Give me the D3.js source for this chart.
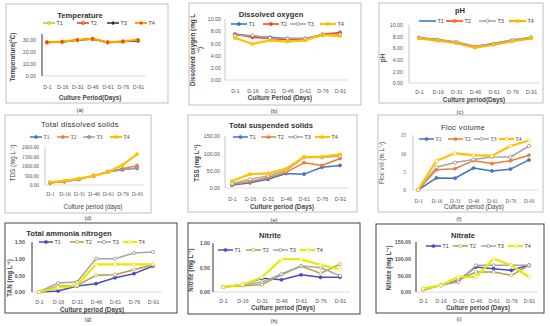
<!DOCTYPE html>
<html>
<head>
<meta charset="utf-8">
<script src="https://cdn.jsdelivr.net/npm/d3@7"></script>
<style>
  body { margin: 0; background: #fff; }
  svg { display: block; font-family: "Liberation Sans", Arial, sans-serif; }
</style>
</head>
<body>
<svg id="chart" width="550" height="326"></svg>
<script>
// categories and treatments
var days = ["D-1", "D-16", "D-31", "D-46", "D-61", "D-76", "D-91"];
var treatments = ["T1", "T2", "T3", "T4"];

// values per treatment (T1..T4)
var temperature = [
  [28.2, 28.4, 29.8, 30.8, 28.2, 28.6, 29.2],
  [28.0, 28.5, 30.0, 31.0, 28.0, 28.8, 29.6],
  [28.1, 28.4, 29.9, 30.9, 28.1, 28.7, 29.4],
  [28.0, 28.6, 30.0, 31.0, 28.0, 28.9, 30.2]
];
var dissolvedOxygen = [
  [7.5, 7.2, 7.0, 6.8, 6.8, 7.4, 7.6],
  [7.5, 7.0, 6.8, 6.6, 6.7, 7.5, 7.8],
  [7.3, 7.3, 6.9, 6.8, 6.8, 7.4, 7.5],
  [6.9, 5.9, 6.5, 6.3, 6.5, 7.4, 7.2]
];
var pH = [
  [7.8, 7.5, 7.0, 6.3, 6.8, 7.4, 7.8],
  [7.8, 7.4, 7.0, 6.2, 6.7, 7.3, 7.8],
  [7.8, 7.5, 7.1, 6.3, 6.8, 7.4, 7.9],
  [7.7, 7.3, 6.9, 6.1, 6.6, 7.2, 7.7]
];
var tds = [
  [120, 180, 300, 480, 700, 820, 880],
  [120, 190, 320, 480, 700, 850, 1020],
  [120, 190, 320, 480, 680, 800, 900],
  [150, 220, 340, 480, 680, 1050, 1620]
];
var tss = [
  [8, 15, 25, 42, 40, 60, 65],
  [10, 18, 30, 45, 73, 65, 85],
  [12, 25, 35, 50, 88, 88, 92],
  [20, 40, 42, 55, 90, 90, 97]
];
var flocVolume = [
  [0, 3.3, 3.2, 6.0, 5.2, 5.7, 8.2],
  [0, 5.5, 5.8, 8.0, 7.2, 8.0, 9.5],
  [0, 6.2, 7.5, 8.3, 9.0, 9.0, 12.0],
  [0, 8.0, 10.0, 9.5, 9.3, 12.0, 13.5]
];
var tan = [
  [0, 0.03, 0.18, 0.25, 0.43, 0.55, 0.78],
  [0, 0.17, 0.20, 0.50, 0.52, 0.67, 0.82],
  [0, 0.27, 0.30, 1.00, 1.00, 1.17, 1.20],
  [0, 0.13, 0.20, 0.83, 0.83, 0.83, 0.83]
];
var nitrite = [
  [0.10, 0.15, 0.28, 0.25, 0.35, 0.30, 0.30],
  [0.10, 0.13, 0.15, 0.35, 0.53, 0.38, 0.57],
  [0.10, 0.15, 0.20, 0.37, 0.53, 0.50, 0.33],
  [0.10, 0.15, 0.30, 0.67, 0.67, 0.55, 0.47]
];
var nitrate = [
  [8, 20, 35, 75, 70, 65, 80],
  [5, 20, 35, 60, 60, 50, 80],
  [10, 20, 30, 80, 80, 80, 80],
  [10, 20, 45, 45, 100, 80, 45]
];

// tick values
var temperatureTicks = [0, 10, 20, 30];
var doTicks = [0, 2, 4, 6, 8, 10];
var phTicks = [0, 2, 4, 6, 8, 10];
var tdsTicks = [0, 500, 1000, 1500, 2000];
var tssTicks = [0, 50, 100, 150];
var flocTicks = [0, 5, 10, 15];
var tanTicks = [0, 0.5, 1, 1.5];
var nitriteTicks = [0, 0.5, 1];
var nitrateTicks = [0, 50, 100, 150];

// colour sets
var excel = ["#4472C4", "#ED7D31", "#A5A5A5", "#FFC000"];
var bottomRow = ["#4B4BC8", "#B89B3C", "#A5A5A5", "#E8E800"];

var svg = d3.select("#chart");

var panels = [
  { data: temperature, ticks: temperatureTicks, fmt: ".2f", max: 35,
    box: [6, 4, 162, 99], x: [47, 138], y: [76, 34], axisX: 42, tickX: 36, labY: 87,
    title: "Temperature", titleXY: [80, 15], bold: true,
    xTitle: "Culture Period(Days)", xTitleXY: [90, 98],
    yTitle: ["Temperature(°C)"], yTitleXY: [13, 57],
    colors: ["#8FD14F", "#FF2A00", "#333333", "#FFA500"], markers: ["#FFD700", "#FF8C00", "#222", "#FF2A00"],
    legY: 23, legX: [43, 77, 107, 135], legW: 12, caption: ["(a)", 80, 110], darkAxis: true },
  { data: dissolvedOxygen, ticks: doTicks, fmt: ".2f", max: 10,
    box: [189, 3, 172, 102], x: [235, 340], y: [80, 19], axisX: 225, tickX: 221, labY: 91,
    title: "Dissolved oxygen", titleXY: [271, 14], bold: true,
    xTitle: "Culture Period (Days)", xTitleXY: [280, 98],
    yTitle: ["Dissolved oxygen (mg L", "⁻¹)"], yTitleXY: [196, 50],
    colors: ["#2E75B6", "#FF3B1F", "#A5A5A5", "#FFC000"], markers: ["#2E75B6", "#FF3B1F", "#fff", "#FFC000"],
    legY: 24, legX: [231, 263, 290, 320], legW: 16, caption: ["(b)", 274, 111] },
  { data: pH, ticks: phTicks, fmt: ".2f", max: 10,
    box: [379, 3, 164, 100], x: [419, 531], y: [83, 25], axisX: 409, tickX: 403, labY: 92,
    title: "pH", titleXY: [460, 10], bold: true,
    xTitle: "Culture period(Days)", xTitleXY: [474, 99.5],
    yTitle: ["pH"], yTitleXY: [383, 58],
    colors: ["#2E75B6", "#FF3B1F", "#A5A5A5", "#FFB000"], markers: ["none", "#FF8C00", "#fff", "#FFC000"],
    legY: 21, legX: [419, 446, 479, 509], legW: 17, caption: ["(c)", 460, 112], wide: true },
  { data: tds, ticks: tdsTicks, fmt: ".2f", max: 2000,
    box: [5, 115, 146, 98], x: [50, 137], y: [185, 147], axisX: 45, tickX: 39, labY: 194,
    title: "Total dissolved solids", titleXY: [80, 124], bold: false,
    xTitle: "Culture period (days)", xTitleXY: [93, 207],
    yTitle: ["TDS (mg L⁻¹)"], yTitleXY: [13, 163],
    colors: excel, markers: ["#4472C4", "#ED7D31", "#A5A5A5", "#FFC000"],
    legY: 137, legX: [30, 57, 83, 110], legW: 12, caption: ["(d)", 88, 218], serif: true, wide: true },
  { data: tss, ticks: tssTicks, fmt: ".2f", max: 150,
    box: [188, 115, 169, 97], x: [232, 340], y: [188, 136], axisX: 225, tickX: 220, labY: 199,
    title: "Total suspended solids", titleXY: [271, 125], bold: true,
    xTitle: "Culture period (Days)", xTitleXY: [282, 207],
    yTitle: ["TSS (mg L⁻¹)"], yTitleXY: [197, 163],
    colors: excel, markers: ["#4472C4", "#ED7D31", "#fff", "#FFC000"],
    legY: 137, legX: [233, 261, 288, 315], legW: 15, caption: ["(e)", 274, 220] },
  { data: flocVolume, ticks: flocTicks, fmt: "d", max: 15,
    box: [378, 115, 165, 97], x: [418, 529], y: [190, 135], axisX: 413, tickX: 406, labY: 201,
    title: "Floc volume", titleXY: [463, 127], bold: false,
    xTitle: "Culture period (Days)", xTitleXY: [474, 207],
    yTitle: ["Floc  vol (m L⁻¹)"], yTitleXY: [382, 163],
    colors: excel, markers: ["#4472C4", "#ED7D31", "#fff", "#fff"],
    legY: 139, legX: [419, 448, 474, 499], legW: 15, caption: ["(f)", 459, 219], serif: true },
  { data: tan, ticks: tanTicks, fmt: ".2f", max: 1.5,
    box: [5, 223, 172, 90], x: [39, 153], y: [292, 242], axisX: 32, tickX: 25, labY: 302,
    title: "Total ammonia nitrogen", titleXY: [69, 233], bold: true,
    xTitle: "Culture period (Days)", xTitleXY: [92, 310],
    yTitle: ["TAN (mg L⁻¹)"], yTitleXY: [10, 278],
    colors: bottomRow, markers: ["#4B4BC8", "#fff", "#fff", "#fff"],
    legY: 242, legX: [39, 70, 97, 123], legW: 14, caption: ["(g)", 88, 319], dark: true, darkAxis: true },
  { data: nitrite, ticks: nitriteTicks, fmt: ".2f", max: 1,
    box: [188, 223, 172, 91], x: [223, 340], y: [292, 243], axisX: 213, tickX: 210, labY: 301,
    title: "Nitrite", titleXY: [270, 235], bold: true,
    xTitle: "Culture period (Days)", xTitleXY: [283, 307.5],
    yTitle: ["Nitrite (mg L⁻¹)"], yTitleXY: [191, 270],
    colors: bottomRow, markers: ["#4B4BC8", "#fff", "#fff", "#fff"],
    legY: 250, legX: [218, 246, 273, 300], legW: 15, caption: ["(h)", 274, 321], dark: true, darkAxis: true },
  { data: nitrate, ticks: nitrateTicks, fmt: ".2f", max: 150,
    box: [376, 224, 168, 89], x: [423, 529], y: [292, 242], axisX: 416, tickX: 411, labY: 301,
    title: "Nitrate", titleXY: [463, 235], bold: true,
    xTitle: "Culture period (Days)", xTitleXY: [478, 307.5],
    yTitle: ["Nitrate (mg L⁻¹)"], yTitleXY: [389, 268],
    colors: bottomRow, markers: ["#4B4BC8", "#fff", "#fff", "#fff"],
    legY: 246, legX: [426, 453, 481, 508], legW: 15, caption: ["(i)", 459, 319], dark: true, darkAxis: true }
];

panels.forEach(drawPanel);

function drawPanel(p) {
  var g = svg.append("g");
  var font = p.serif ? "'Liberation Serif', serif" : null;

  g.append("rect")
    .attr("x", p.box[0]).attr("y", p.box[1])
    .attr("width", p.box[2]).attr("height", p.box[3])
    .attr("fill", "#fff")
    .attr("stroke", p.dark ? "#444" : "#b0b0b0")
    .attr("stroke-width", p.dark ? 1 : 0.8);

  var x = d3.scalePoint().domain(days).range(p.x);
  var y = d3.scaleLinear().domain([0, p.max]).range(p.y);

  // baseline
  g.append("line")
    .attr("x1", p.axisX).attr("x2", p.x[1] + (p.x[1] - p.x[0]) / 12)
    .attr("y1", y(0)).attr("y2", y(0))
    .attr("stroke", "#d0d0d0").attr("stroke-width", 0.8);

  // vertical axis line
  g.append("line")
    .attr("x1", p.axisX).attr("x2", p.axisX)
    .attr("y1", y(0)).attr("y2", y(p.max))
    .attr("stroke", p.darkAxis ? "#555" : "#bbb").attr("stroke-width", p.darkAxis ? 1.2 : 0.8);

  // y ticks
  var yAxis = g.append("g")
    .attr("transform", "translate(" + p.tickX + ",0)")
    .call(d3.axisLeft(y).tickValues(p.ticks).tickSize(0).tickPadding(0).tickFormat(d3.format(p.fmt)));
  yAxis.select(".domain").remove();
  yAxis.selectAll("text")
    .attr("font-size", 5.3).attr("fill", "#555")
    .attr("font-family", font || "'Liberation Sans', Arial, sans-serif")
    .attr("font-weight", p.dark ? "bold" : null);

  // x ticks
  var xAxis = g.append("g")
    .attr("transform", "translate(0," + p.labY + ")")
    .call(d3.axisBottom(x).tickSize(0).tickPadding(0));
  xAxis.select(".domain").remove();
  xAxis.selectAll("text")
    .attr("dy", "0.35em")
    .attr("font-size", p.wide && p.serif ? 5.6 : 5.3).attr("fill", "#555")
    .attr("font-family", font || "'Liberation Sans', Arial, sans-serif");

  // lines
  var line = d3.line()
    .x(function(d, i) { return x(days[i]); })
    .y(function(d) { return y(d); });

  p.data.forEach(function(vals, k) {
    var thick = k === 3 ? 2.2 : 1.5;
    g.append("path")
      .datum(vals)
      .attr("d", line)
      .attr("fill", "none")
      .attr("stroke", p.colors[k])
      .attr("stroke-width", thick)
      .attr("stroke-linejoin", "round");
    if (p.markers[k] !== "none") {
      g.selectAll(null)
        .data(vals)
        .enter().append("circle")
        .attr("cx", function(d, i) { return x(days[i]); })
        .attr("cy", function(d) { return y(d); })
        .attr("r", 1.6)
        .attr("fill", p.markers[k])
        .attr("stroke", k === 2 ? "#777" : p.colors[k])
        .attr("stroke-width", 0.6);
    }
  });

  // legend
  treatments.forEach(function(t, k) {
    var lx = p.legX[k];
    g.append("line")
      .attr("x1", lx).attr("x2", lx + p.legW)
      .attr("y1", p.legY).attr("y2", p.legY)
      .attr("stroke", p.colors[k]).attr("stroke-width", k === 3 ? 2.2 : 1.5);
    if (p.markers[k] !== "none") {
      g.append("circle")
        .attr("cx", lx + p.legW / 2).attr("cy", p.legY).attr("r", 1.6)
        .attr("fill", p.markers[k])
        .attr("stroke", k === 2 ? "#777" : p.colors[k]).attr("stroke-width", 0.6);
    }
    g.append("text")
      .attr("x", lx + p.legW + 1.5).attr("y", p.legY)
      .attr("dy", "0.35em")
      .attr("font-size", 5.5).attr("fill", "#444")
      .attr("font-family", font)
      .text(t);
  });

  // title
  g.append("text")
    .attr("x", p.titleXY[0]).attr("y", p.titleXY[1])
    .attr("dy", "0.35em").attr("text-anchor", "middle")
    .attr("font-size", 7.6).attr("font-weight", p.bold ? "bold" : null)
    .attr("fill", "#333")
    .attr("letter-spacing", p.bold ? 0 : 0.3)
    .text(p.title);

  // x axis title
  g.append("text")
    .attr("x", p.xTitleXY[0]).attr("y", p.xTitleXY[1])
    .attr("dy", "0.35em").attr("text-anchor", "middle")
    .attr("font-size", 6.3).attr("font-weight", p.serif ? null : "bold")
    .attr("fill", "#444")
    .text(p.xTitle);

  // y axis title
  var yt = g.append("text")
    .attr("transform", "translate(" + p.yTitleXY[0] + "," + p.yTitleXY[1] + ") rotate(-90)")
    .attr("text-anchor", "middle")
    .attr("font-size", 6.3).attr("font-weight", p.serif ? null : "bold")
    .attr("fill", "#444");
  p.yTitle.forEach(function(s, i) {
    yt.append("tspan")
      .attr("x", 0)
      .attr("dy", i === 0 ? (p.yTitle.length > 1 ? "-0.15em" : "0.35em") : "1.1em")
      .text(s);
  });

  // caption
  svg.append("text")
    .attr("x", p.caption[1]).attr("y", p.caption[2])
    .attr("dy", "0.35em").attr("text-anchor", "middle")
    .attr("font-size", 5.8).attr("fill", "#333")
    .text(p.caption[0]);
}
</script>
</body>
</html>
